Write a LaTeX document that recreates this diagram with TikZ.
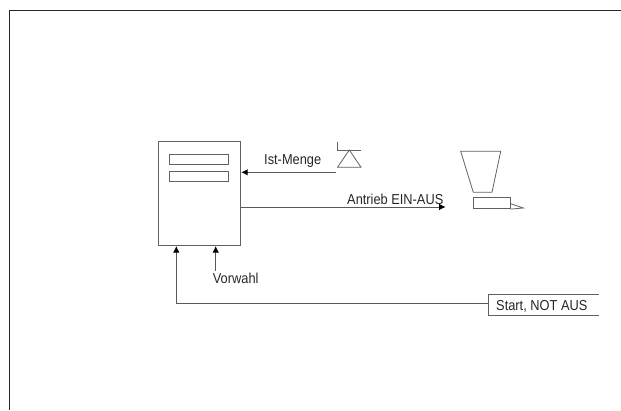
\documentclass[tikz,border=0pt]{standalone}
\usepackage{fontspec}
\setmainfont[FakeStretch=0.89]{Liberation Sans}
\usetikzlibrary{arrows.meta}
\tikzset{
  shapeline/.style={draw=black!62,line width=0.8pt},
  conn/.style={draw=black!65,line width=1pt},
  tip/.style={-{Latex[length=6.5pt,width=6.5pt,black]}},
  lbl/.style={font=\fontsize{14.4}{16}\selectfont,inner sep=0pt,text=black!85},
  box/.style={shapeline,fill=white,inner sep=0pt,minimum width=#1}
}
\begin{document}
\begin{tikzpicture}[x=1pt,y=-1pt]
\useasboundingbox (0,0) rectangle (621,410);
\draw[black!85,line width=1.2pt] (621,10.5) -- (9.5,10.5) -- (9.5,410);
% controller
\node[box=82pt,minimum height=104.2pt] (ctrl) at (199.5,193.6) {};
\node[box=59.7pt,minimum height=9.6pt] (d1) at (198.9,159.5) {};
\node[box=59.7pt,minimum height=10pt] (d2) at (198.9,176.3) {};
% sensor
\coordinate (s0) at (337.3,142);
\coordinate (s1) at (337.3,150);
\coordinate (s2) at (361,150);
\coordinate (apex) at (349.3,150);
\coordinate (bl) at (337.5,167.3);
\coordinate (br) at (361,167.3);
\draw[shapeline] (s0) -- (s1) -- (s2);
\draw[shapeline] (apex) -- (bl) -- (br) -- cycle;
% hopper and feeder
\draw[shapeline] (460.7,151.3) -- (500.7,151.3) -- (492,192.3) -- (473.3,192.3) -- cycle;
\node[box=37pt,minimum height=11.4pt] (feed) at (491.8,203) {};
\draw[shapeline] (feed.east |- 0,203.7) -- (523.3,208) -- (feed.south east);
% connectors
\coordinate (istS) at (336,172.3);
\coordinate (istE) at (241.2,172.3);
\draw[conn,tip] (istS) -- (istE);
\coordinate (antS) at (240.5,207);
\coordinate (antE) at (445.7,207);
\draw[conn,tip] (antS) -- (antE);
\coordinate (vorS) at (215.7,270.7);
\coordinate (vorE) at (215.7,246);
\draw[conn,tip] (vorS) -- (vorE);
% start box, open on the right
\coordinate (tl) at (488.3,294.3);
\coordinate (tr) at (599,294.3);
\coordinate (bot) at (488.3,315.3);
\coordinate (brs) at (599,315.3);
\draw[shapeline] (tr) -- (tl) -- (bot) -- (brs);
\coordinate (startW) at (488.3,303.7);
\coordinate (startC) at (176.3,303.7);
\coordinate (startE) at (176.3,246);
\draw[conn,tip] (startW) -- (startC) -- (startE);
% labels
\node[lbl,anchor=base west] (l1) at (264,164.3) {Ist-Menge};
\node[lbl,anchor=base west] (l2) at (347,204) {Antrieb EIN-AUS};
\node[lbl,anchor=base west] (l3) at (212.7,283.3) {Vorwahl};
\node[lbl,anchor=base west] (l4) at (496,310) {Start, NOT AUS};
\end{tikzpicture}
\end{document}
